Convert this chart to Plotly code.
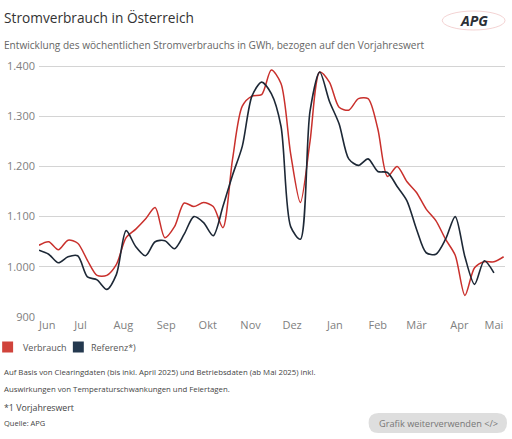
import plotly.graph_objects as go
import pandas as pd

start = "2024-06-01"
dates = pd.date_range(start, periods=49, freq="7D")

verbrauch = [1043, 1050, 1034, 1053, 1047, 1013, 983, 983, 1005, 1058,
             1075, 1095, 1118, 1058, 1080, 1127, 1120, 1128, 1120, 1078,
             1215, 1320, 1340, 1343, 1392, 1365, 1225, 1128, 1250, 1388,
             1368, 1318, 1312, 1335, 1335, 1275, 1180, 1200, 1170, 1148,
             1115, 1092, 1055, 1023, 943, 998, 1010, 1010, 1020]

referenz = [1033, 1025, 1008, 1020, 1022, 980, 974, 955, 985, 1072,
            1040, 1022, 1050, 1052, 1036, 1065, 1100, 1088, 1062, 1120,
            1183, 1240, 1340, 1368, 1345, 1280, 1080, 1055, 1310, 1388,
            1330, 1285, 1215, 1202, 1215, 1190, 1188, 1160, 1132, 1075,
            1028, 1025, 1055, 1100, 1020, 965, 1012, 988]

month_ticks = ["2024-06-07", "2024-07-01", "2024-08-01", "2024-09-01", "2024-10-01",
               "2024-11-01", "2024-12-01", "2025-01-01", "2025-02-01", "2025-03-01",
               "2025-04-01", "2025-04-26"]
month_labels = ["Jun", "Jul", "Aug", "Sep", "Okt", "Nov", "Dez", "Jan", "Feb", "Mär", "Apr", "Mai"]
y_ticks = [900, 1000, 1100, 1200, 1300, 1400]

RED = "#c9302c"
NAVY = "#1d2836"
FONT = "Open Sans"

fig = go.Figure()
fig.add_trace(go.Scatter(x=dates, y=verbrauch, mode="lines", name="Verbrauch",
                         line=dict(color=RED, width=1.5, shape="spline", smoothing=0.8),
                         showlegend=False))
fig.add_trace(go.Scatter(x=dates[:len(referenz)], y=referenz, mode="lines", name="Referenz*)",
                         line=dict(color=NAVY, width=1.6, shape="spline", smoothing=0.8),
                         showlegend=False))

fig.update_layout(
    width=512, height=439,
    margin=dict(l=37, r=7, t=61, b=122),
    paper_bgcolor="white", plot_bgcolor="white",
    separators=",.",
    font=dict(family=FONT, color="#555"),
    showlegend=False,
    xaxis=dict(type="date", range=["2024-06-01", "2025-05-04"],
               tickvals=month_ticks, ticktext=month_labels,
               showgrid=False, zeroline=False, showline=False, ticks="",
               tickfont=dict(size=11, color="#808080")),
    yaxis=dict(range=[900, 1410], tickvals=y_ticks, tickformat=",d",
               showgrid=True, gridcolor="#d4d4d4", gridwidth=1, zeroline=False,
               showline=False, ticks="", ticklabelstandoff=3,
               tickfont=dict(size=11, color="#808080")),
)

def px(xp):
    return (xp - 37) / 468

def py(yp):
    return 1 - (yp - 61) / 256

anns = [
    dict(text="Stromverbrauch in Österreich", x=0, y=17, size=13.7, color="#333"),
    dict(text="Entwicklung des wöchentlichen Stromverbrauchs in GWh, bezogen auf den Vorjahreswert",
         x=0, y=45, size=10.1, color="#666"),
    dict(text="Auf Basis von Clearingdaten (bis inkl. April 2025) und Betriebsdaten (ab Mai 2025) inkl.",
         x=0, y=372, size=7.8, color="#444"),
    dict(text="Auswirkungen von Temperaturschwankungen und Feiertagen.", x=0, y=389, size=7.8, color="#444"),
    dict(text="*1 Vorjahreswert", x=0, y=408, size=8.8, color="#444"),
    dict(text="Quelle: APG", x=0, y=423, size=7.5, color="#444"),
    dict(text="Verbrauch", x=19, y=347, size=9.0, color="#555"),
    dict(text="Referenz*)", x=87, y=347, size=9.0, color="#555"),
]
for a in anns:
    fig.add_annotation(text=a["text"], xref="paper", yref="paper",
                       x=px(a["x"]), y=py(a["y"]),
                       xanchor="left", yanchor="middle", showarrow=False,
                       font=dict(size=a["size"], color=a["color"], family=FONT))

# legend swatches
for x0, col in [(0, "#d0433b"), (71, "#24394f")]:
    fig.add_shape(type="rect", xref="paper", yref="paper",
                  x0=px(x0), x1=px(x0 + 11), y0=py(352.5), y1=py(341.5),
                  fillcolor=col, line=dict(width=0))

# button
fig.add_shape(type="path", xref="paper", yref="paper", layer="below",
              path="M {x0},{y0} L {x1},{y0} Q {x2},{y0} {x2},{ym} Q {x2},{y1} {x1},{y1} L {x0},{y1} Q {xm},{y1} {xm},{ym} Q {xm},{y0} {x0},{y0} Z".format(
                  x0=px(378), x1=px(497), x2=px(507), xm=px(368),
                  y0=py(413), y1=py(433), ym=py(423)),
              fillcolor="#dedede", line=dict(width=0))
fig.add_annotation(text="Grafik weiterverwenden &lt;/&gt;", xref="paper", yref="paper",
                   x=px(438), y=py(423), xanchor="center", yanchor="middle",
                   showarrow=False, font=dict(size=9.2, color="#777", family=FONT))

# logo
fig.add_shape(type="circle", xref="paper", yref="paper",
              x0=px(442), x1=px(505), y0=py(30), y1=py(11),
              line=dict(color="rgba(220,130,130,0.35)", width=1))
fig.add_annotation(text="<i><b>APG</b></i>", xref="paper", yref="paper",
                   x=px(474), y=py(20), xanchor="center", yanchor="middle",
                   showarrow=False, font=dict(size=14, color="#2b2f36", family=FONT))

fig.write_html("out.html")
